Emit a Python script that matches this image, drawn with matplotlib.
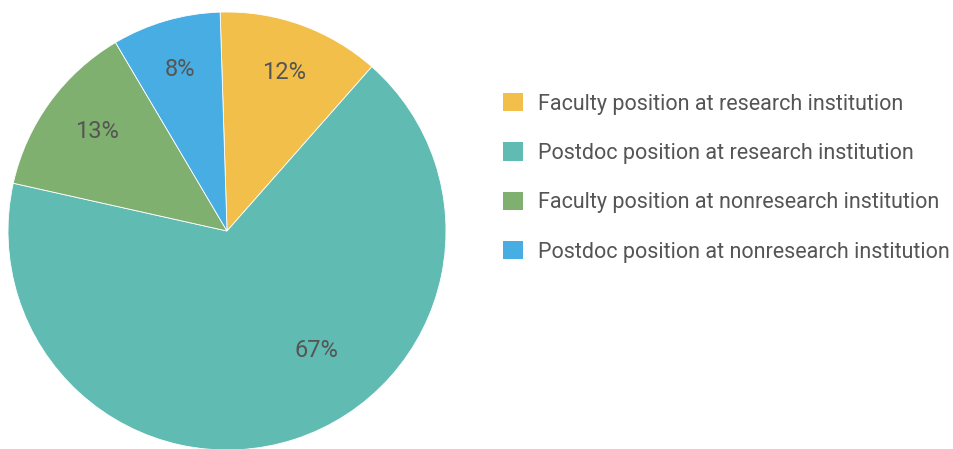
import matplotlib.pyplot as plt
from matplotlib.patches import Patch
from matplotlib import font_manager
import numpy as np

# data
labels = ['Faculty position at research institution',
          'Postdoc position at research institution',
          'Faculty position at nonresearch institution',
          'Postdoc position at nonresearch institution']
shares = [12, 67, 13, 8]
colors = ['#f2bf4a', '#60bbb2', '#80b06f', '#48ade3']

names = {f.name for f in font_manager.fontManager.ttflist}
fam = 'Liberation Sans Narrow' if 'Liberation Sans Narrow' in names else 'Roboto'
plt.rcParams['font.family'] = [fam, 'DejaVu Sans']
text_color = '#555555'

W, H = 954, 449
fig = plt.figure(figsize=(W / 100, H / 100), dpi=100)

# pie centre (227, 231) px, radius 219 px
cx, cy, r = 227, 231, 219
ax = fig.add_axes([(cx - r) / W, (H - cy - r) / H, 2 * r / W, 2 * r / H])
wedges, texts, autotexts = ax.pie(
    shares, colors=colors, startangle=91.8, counterclock=False,
    autopct='%d%%', pctdistance=0.77, radius=1,
    wedgeprops=dict(linewidth=0.6, edgecolor='white'),
    textprops=dict(color=text_color, fontsize=17))
ax.set_xlim(-1, 1)
ax.set_ylim(-1, 1)
ax.set_aspect('auto')

# nudge labels to where the original puts them
autotexts[1].set_position((0.41, -0.545))
x, y = autotexts[2].get_position()
autotexts[2].set_position((x + 0.03, y))

handles = [Patch(facecolor=c, edgecolor='none') for c in colors]
leg = fig.legend(handles, labels, loc='upper left',
                 bbox_to_anchor=(503 / W, 1 - 93 / H),
                 frameon=False, fontsize=15.5, handlelength=0.93, handleheight=0.93,
                 handletextpad=0.7, labelspacing=1.29, borderaxespad=0, borderpad=0)
for t in leg.get_texts():
    t.set_color(text_color)

fig.savefig('out.png', dpi=100)
